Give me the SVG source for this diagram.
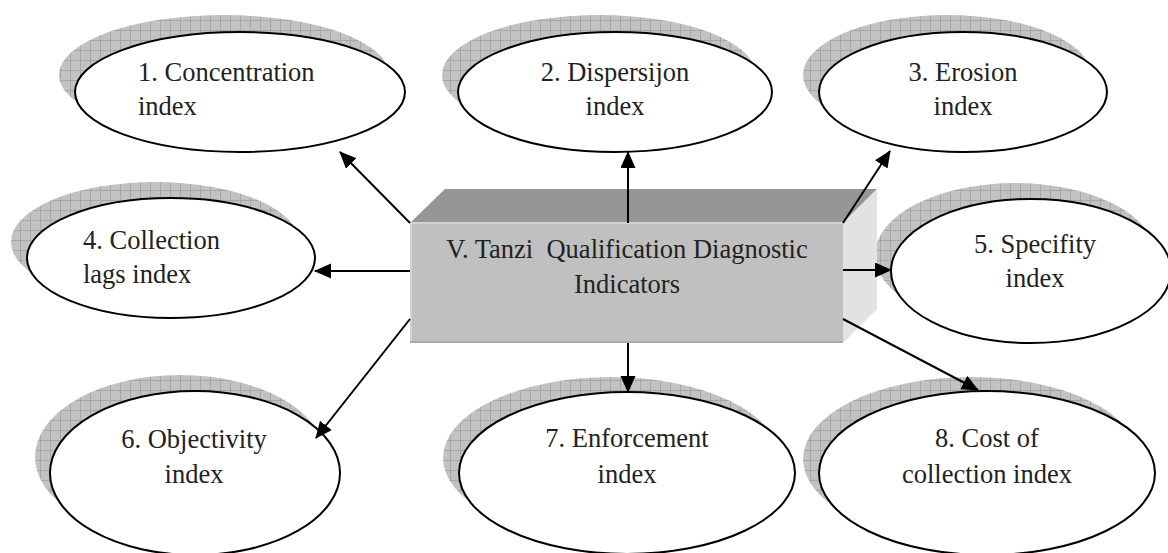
<svg xmlns="http://www.w3.org/2000/svg" width="1168" height="553" viewBox="0 0 1168 553">
<style>
.lbl{font-family:"Liberation Serif","Times New Roman",serif;font-size:26.5px;fill:#222}
.c{text-anchor:middle}
.el{fill:#fff;stroke:#000;stroke-width:2}
.sh{fill:url(#hatch)}
.con{stroke:#000;stroke-width:2;fill:none;marker-end:url(#arr)}
</style>
<defs>
<pattern id="hatch" width="10" height="10" patternUnits="userSpaceOnUse">
<rect width="10" height="10" fill="#c2c2c2"/>
<path d="M0 0.5H10M0.5 0V10" stroke="#a4a4a4" stroke-width="0.9"/>
</pattern>
<marker id="arr" markerUnits="userSpaceOnUse" markerWidth="18" markerHeight="16" refX="16" refY="7.5" orient="auto">
<path d="M0 0L17 7.5L0 15Z" fill="#000"/>
</marker>
</defs>
<rect width="1168" height="553" fill="#fff"/>

<g id="n1">
<ellipse class="sh" cx="224" cy="75" rx="165" ry="60"/>
<ellipse class="el" cx="240" cy="92" rx="165" ry="60"/>
<text class="lbl" x="138" y="81">1. Concentration</text>
<text class="lbl" x="138" y="115">index</text>
</g>
<g id="n2">
<ellipse class="sh" cx="599" cy="75" rx="157" ry="60"/>
<ellipse class="el" cx="615" cy="92" rx="157" ry="60"/>
<text class="lbl c" x="615" y="81">2. Dispersijon</text>
<text class="lbl c" x="615" y="115">index</text>
</g>
<g id="n3">
<ellipse class="sh" cx="947" cy="75" rx="144" ry="60"/>
<ellipse class="el" cx="963" cy="92" rx="144" ry="60"/>
<text class="lbl c" x="963" y="81">3. Erosion</text>
<text class="lbl c" x="963" y="115">index</text>
</g>
<g id="n4">
<ellipse class="sh" cx="155" cy="242" rx="144" ry="60"/>
<ellipse class="el" cx="171" cy="258" rx="144" ry="60"/>
<text class="lbl" x="83" y="249">4. Collection</text>
<text class="lbl" x="83" y="283">lags index</text>
</g>
<g id="n5">
<ellipse class="sh" cx="1015" cy="255" rx="140" ry="72"/>
<ellipse class="el" cx="1031" cy="271" rx="140" ry="72"/>
<text class="lbl c" x="1035" y="253">5. Specifity</text>
<text class="lbl c" x="1035" y="287">index</text>
</g>
<g id="n6">
<ellipse class="sh" cx="180" cy="457" rx="145" ry="82"/>
<ellipse class="el" cx="195" cy="473" rx="145" ry="82"/>
<text class="lbl c" x="194" y="448">6. Objectivity</text>
<text class="lbl c" x="194" y="483">index</text>
</g>
<g id="n7">
<ellipse class="sh" cx="611" cy="458" rx="168" ry="81"/>
<ellipse class="el" cx="627" cy="473" rx="168" ry="81"/>
<text class="lbl c" x="627" y="447">7. Enforcement</text>
<text class="lbl c" x="627" y="483">index</text>
</g>
<g id="n8">
<ellipse class="sh" cx="971" cy="459" rx="168" ry="82"/>
<ellipse class="el" cx="987" cy="473" rx="168" ry="82"/>
<text class="lbl c" x="987" y="447">8. Cost of</text>
<text class="lbl c" x="987" y="483">collection index</text>
</g>

<g id="center">
<polygon points="410,223 445,189 877,189 843,223" fill="#969696"/>
<polygon points="843,223 877,189 877,309 843,343" fill="#e2e2e2"/>
<rect x="410" y="223" width="433" height="120" fill="#c0c0c0"/>
<path d="M411 343V223H843" stroke="#d2d2d2" stroke-width="2" fill="none"/>
<path d="M410 342H843" stroke="#a9a9a9" stroke-width="2" fill="none"/>
<text class="lbl c" x="627" y="258" xml:space="preserve">V. Tanzi  Qualification Diagnostic</text>
<text class="lbl c" x="627" y="293">Indicators</text>
</g>

<g id="connectors">
<line class="con" x1="410" y1="223" x2="340" y2="152"/>
<line class="con" x1="628" y1="223" x2="628" y2="152"/>
<line class="con" x1="843" y1="223" x2="890" y2="151"/>
<line class="con" x1="410" y1="271" x2="315" y2="271"/>
<line class="con" x1="843" y1="270" x2="891" y2="270"/>
<line class="con" x1="410" y1="319" x2="316" y2="438"/>
<line class="con" x1="628" y1="343" x2="628" y2="392"/>
<line class="con" x1="843" y1="319" x2="978" y2="390"/>
</g>
</svg>
